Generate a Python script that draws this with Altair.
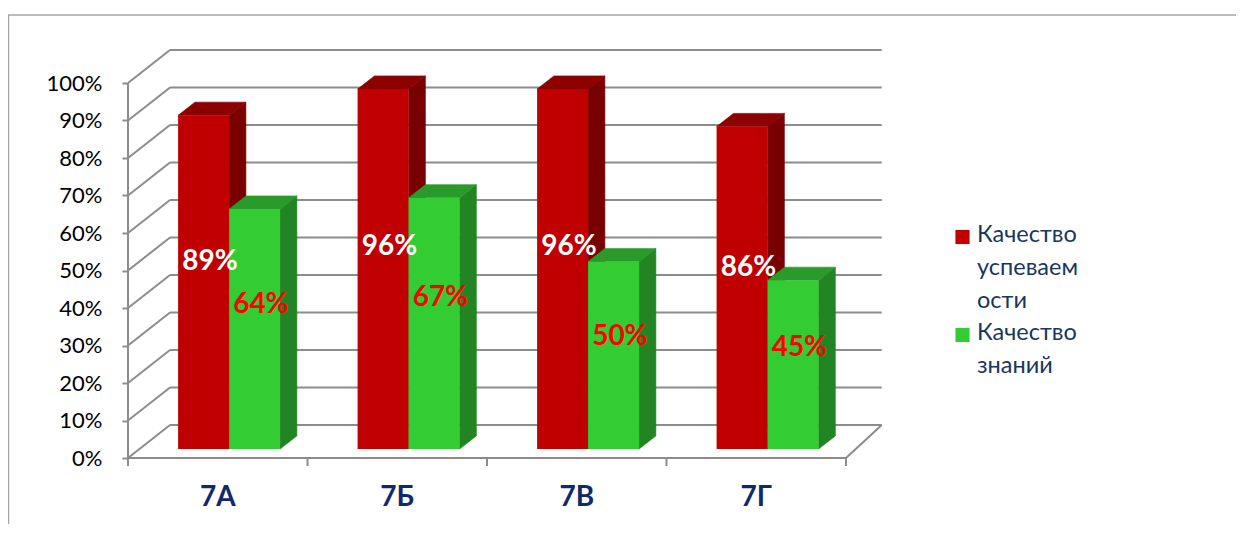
import altair as alt
import pandas as pd

# ---- data ----
classes = ["7А", "7Б", "7В", "7Г"]
series_names = ["Качество успеваемости", "Качество знаний"]
uspev = [89, 96, 96, 86]
znan = [64, 67, 50, 45]
legend_lines = ["Качество\nуспеваем\nости", "Качество\nзнаний"]
ticks = list(range(0, 101, 10))

# ---- geometry (in data units) ----
DX = 0.234      # depth of the box in category units
DY = 8.8        # depth of the box in % units
F0 = 0.27       # bars' front plane depth fraction
BD = 0.40       # bar depth fraction
BW = 0.284      # bar width (category units)
GAP0 = 0.216    # left gap inside category

front_c = ["#C00000", "#33CC33"]
side_c = ["#780000", "#228422"]
top_c = ["#8C0000", "#2A9A2A"]
lab_c = ["#FFFFFF", "#FF0000"]
lab_k = [0.56, 0.60]

W, H = 760, 408
xs = alt.Scale(domain=[0, 4 + DX], nice=False, zero=False)
ys = alt.Scale(domain=[0, 100 + DY], nice=False, zero=False)
yaxis = alt.Axis(values=ticks, labelExpr="datum.value + '%'", grid=False, domain=False,
                 ticks=True, tickColor="#8C8C8C", tickWidth=2, tickSize=6, labelPadding=20,
                 labelFont="Lato", labelFontSize=22, labelColor="#000000", title=None)

def X(f):
    return alt.X(f, scale=xs, axis=None, title=None)

def Y(f):
    return alt.Y(f, scale=ys, axis=yaxis, title=None)

# ---- walls ----
wall_rows = []
for v in ticks:
    wall_rows.append(dict(x=DX, x2=4 + DX * 0.85, y=v + DY, y2=v + DY))
    wall_rows.append(dict(x=0, x2=DX, y=v, y2=v + DY))
wall_rows.append(dict(x=0, x2=0, y=0, y2=100))
wall_rows.append(dict(x=0, x2=4, y=0, y2=0))
wall_rows.append(dict(x=4, x2=4 + DX * 0.85, y=0, y2=DY))
walls = alt.Chart(pd.DataFrame(wall_rows)).mark_rule(color="#8C8C8C", strokeWidth=2).encode(
    x=X("x:Q"), x2="x2:Q", y=Y("y:Q"), y2="y2:Q")

xt = alt.Chart(pd.DataFrame({"x": list(range(0, 5))})).mark_rule(color="#8C8C8C", strokeWidth=2).encode(
    x=X("x:Q"), y=alt.value(H), y2=alt.value(H + 8))

# ---- bars ----
vals = [uspev, znan]
layers = [walls, xt]
lab_rows = []
for s in range(2):
    for i, c in enumerate(classes):
        v = vals[s][i]
        x0 = i + GAP0 + s * BW + F0 * DX
        x1 = x0 + BW
        yb = F0 * DY
        yt = v + F0 * DY
        ddx, ddy = BD * DX, BD * DY
        side_df = pd.DataFrame([dict(x=x1, lo=yb, hi=yt),
                                dict(x=x1 + ddx, lo=yb + ddy, hi=yt + ddy)])
        top_df = pd.DataFrame([dict(x=x0, lo=yt, hi=yt),
                               dict(x=x0 + ddx, lo=yt, hi=yt + ddy),
                               dict(x=x1, lo=yt, hi=yt + ddy),
                               dict(x=x1 + ddx, lo=yt + ddy, hi=yt + ddy)])
        front_df = pd.DataFrame([dict(x0=x0, x1=x1, yb=yb, yt=yt)])
        side = alt.Chart(side_df).mark_area(color=side_c[s], stroke=side_c[s], strokeWidth=0.6,
                                            orient="vertical", interpolate="linear").encode(
            x=X("x:Q"), y=Y("lo:Q"), y2="hi:Q")
        top = alt.Chart(top_df).mark_area(color=top_c[s], stroke=top_c[s], strokeWidth=0.6,
                                          orient="vertical", interpolate="linear").encode(
            x=X("x:Q"), y=Y("lo:Q"), y2="hi:Q")
        front = alt.Chart(front_df).mark_rect(color=front_c[s]).encode(
            x=X("x0:Q"), x2="x1:Q", y=Y("yb:Q"), y2="yt:Q")
        layers += [side, top, front]
        lab_rows.append(dict(s=s, x=(x0 + x1) / 2 + 0.035, y=yb + lab_k[s] * v, t=f"{v}%"))

ldf = pd.DataFrame(lab_rows)
for s in range(2):
    lab = alt.Chart(ldf[ldf.s == s]).mark_text(font="Lato", fontSize=28, fontWeight="bold",
                                               color=lab_c[s], baseline="middle", align="center").encode(
        x=X("x:Q"), y=Y("y:Q"), text="t:N")
    layers.append(lab)

# ---- category labels ----
cdf = pd.DataFrame({"c": classes, "x": [i + 0.5 for i in range(len(classes))]})
clab = alt.Chart(cdf).mark_text(font="Lato", fontSize=28, fontWeight="bold", color="#10296B",
                                baseline="middle", align="center").encode(
    x=X("x:Q"), y=alt.value(H + 40), text="c:N")
layers.append(clab)

# ---- legend ----
leg_y = [187, 285]
for s in range(2):
    d = pd.DataFrame({"n": [series_names[s]], "t": [legend_lines[s]]})
    sq = alt.Chart(d).mark_square(size=200, color=front_c[s], opacity=1).encode(
        x=alt.value(834.5), y=alt.value(leg_y[s]))
    tx = alt.Chart(d).mark_text(font="Lato", fontSize=23.5, color="#17375E", align="left",
                                baseline="top", lineBreak="\n", lineHeight=33).encode(
        x=alt.value(849), y=alt.value(leg_y[s] - 14), text="t:N")
    layers += [sq, tx]

# ---- outer frame ----
frame = alt.Chart(pd.DataFrame({"a": [0]})).mark_rect(fillOpacity=0, stroke="#A6A6A6", strokeWidth=1.5).encode(
    x=alt.value(-119.5), x2=alt.value(1200), y=alt.value(-35), y2=alt.value(600))
layers.append(frame)

chart = alt.layer(*layers).properties(
    width=W, height=H,
    padding={"left": 120, "top": 42, "right": 348, "bottom": 66},
    autosize=alt.AutoSizeParams(type="none"),
    background="white",
).configure_view(stroke=None)

chart.save("out.html", embed_options={"renderer": "svg", "actions": False})
